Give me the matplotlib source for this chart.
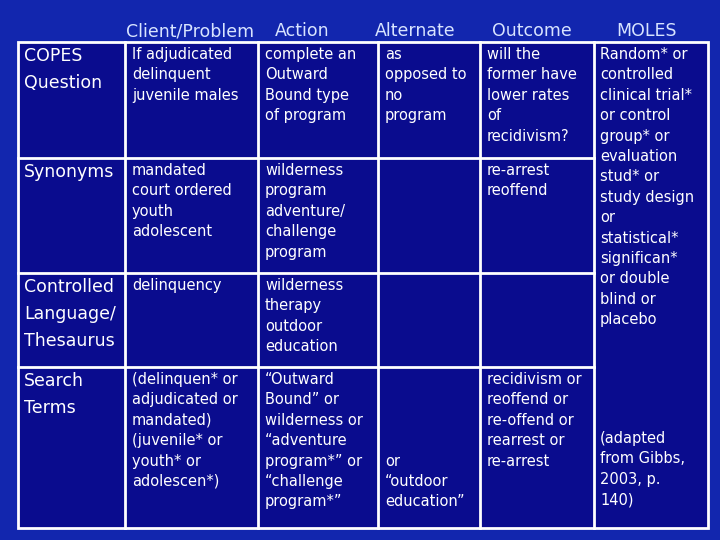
import matplotlib
matplotlib.use("Agg")
import matplotlib.pyplot as plt

headers = ["Client/Problem", "Action", "Alternate", "Outcome", "MOLES"]
row_labels = ["COPES\nQuestion", "Synonyms", "Controlled\nLanguage/\nThesaurus", "Search\nTerms"]
cells = [
    ["If adjudicated\ndelinquent\njuvenile males", "complete an\nOutward\nBound type\nof program",
     "as\nopposed to\nno\nprogram", "will the\nformer have\nlower rates\nof\nrecidivism?"],
    ["mandated\ncourt ordered\nyouth\nadolescent", "wilderness\nprogram\nadventure/\nchallenge\nprogram",
     "", "re-arrest\nreoffend"],
    ["delinquency", "wilderness\ntherapy\noutdoor\neducation", "", ""],
    ["(delinquen* or\nadjudicated or\nmandated)\n(juvenile* or\nyouth* or\nadolescen*)",
     "\u201cOutward\nBound\u201d or\nwilderness or\n\u201cadventure\nprogram*\u201d or\n\u201cchallenge\nprogram*\u201d",
     "\n\n\n\nor\n\u201coutdoor\neducation\u201d",
     "recidivism or\nreoffend or\nre-offend or\nrearrest or\nre-arrest"],
]
moles_top = ("Random* or\ncontrolled\nclinical trial*\nor control\ngroup* or\nevaluation\nstud* or\n"
             "study design\nor\nstatistical*\nsignifican*\nor double\nblind or\nplacebo")
moles_bottom = "(adapted\nfrom Gibbs,\n2003, p.\n140)"

# layout in pixels
col_x = [18, 125, 258, 378, 480, 594, 708]
row_y = [42, 158, 273, 367, 528]
header_x = [190, 302, 415, 532, 646]

fig = plt.figure(figsize=(7.2, 5.4), dpi=100)
fig.patch.set_facecolor("#1226AE")
ax = fig.add_axes([0, 0, 1, 1])
ax.set_xlim(0, 720); ax.set_ylim(540, 0); ax.axis("off")

ax.add_patch(plt.Rectangle((col_x[0], row_y[0]), col_x[-1]-col_x[0], row_y[-1]-row_y[0],
                           facecolor="#0A0C8E", edgecolor="white", lw=2))
for x in col_x[1:-1]:
    ax.plot([x, x], [row_y[0], row_y[-1]], color="white", lw=2)
for y in row_y[1:-1]:
    ax.plot([col_x[0], col_x[5]], [y, y], color="white", lw=2)

fs = 10.5
ls = 1.45
for h, x in zip(headers, header_x):
    ax.text(x, 31, h, color="#D8E4FF", fontsize=12.5, ha="center", va="center")
for i, lab in enumerate(row_labels):
    ax.text(col_x[0]+6, row_y[i]+5, lab, color="white", fontsize=12.5, va="top", linespacing=1.65)
    for j, c in enumerate(cells[i]):
        ax.text(col_x[j+1]+7, row_y[i]+5, c, color="white", fontsize=fs, va="top", linespacing=ls)
ax.text(col_x[5]+6, row_y[0]+5, moles_top, color="white", fontsize=fs, va="top", linespacing=ls)
ax.text(col_x[5]+6, 431, moles_bottom, color="white", fontsize=fs, va="top", linespacing=ls)

fig.savefig("out.png", dpi=100, facecolor=fig.get_facecolor())
